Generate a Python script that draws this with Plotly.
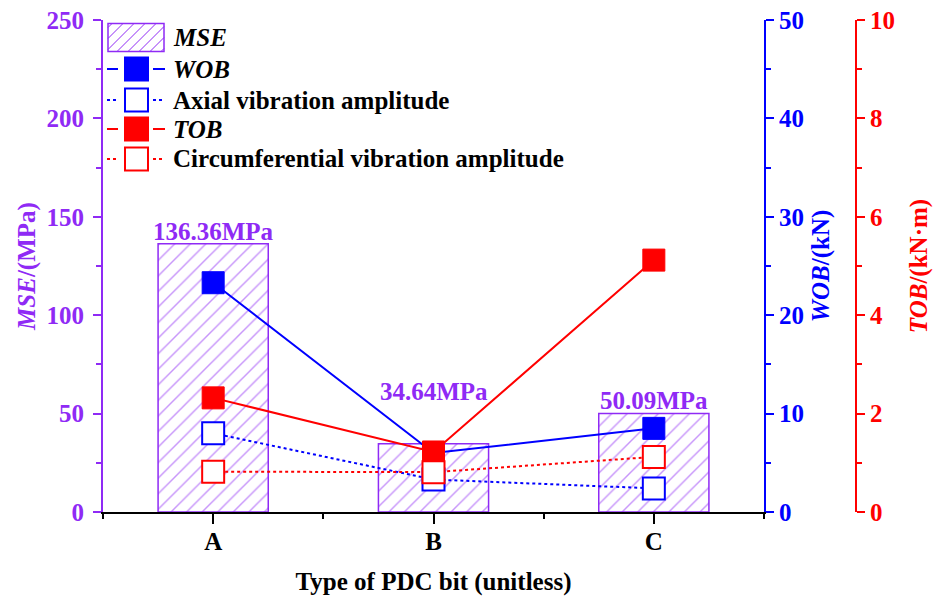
import plotly.graph_objects as go

categories = ["A", "B", "C"]
x_pos = [0, 1, 2]
mse = [136.36, 34.64, 50.09]
mse_labels = ["136.36MPa", "34.64MPa", "50.09MPa"]
label_shift = [0, 40, 0]
wob = [23.3, 6.0, 8.5]
axial_amp = [8.0, 3.3, 2.4]
tob = [2.32, 1.22, 5.12]
circ_amp = [0.82, 0.81, 1.12]

legend_names = ["<i>MSE</i>", "<i>WOB</i>", "Axial vibration amplitude",
                "<i>TOB</i>", "Circumferential vibration amplitude"]

PURPLE = "#8F2AF5"
BLUE = "#0000FF"
RED = "#FF0000"
FONT = "Liberation Serif"
FS = 25

W, H = 936, 603
L, R, T, B = 103, 0, 20, 91
plot_w = W - L - R
plot_h = H - T - B
x_end = (764 - L) / plot_w
y3_pos = (856 - L) / plot_w


def px(xp):
    return (xp - L) / plot_w


def py(yp):
    return (H - B - yp) / plot_h


fig = go.Figure()

fig.add_trace(go.Bar(
    x=x_pos, y=mse, width=0.5, name="MSE", showlegend=False,
    marker=dict(color="white", line=dict(color=PURPLE, width=1.5),
                pattern=dict(shape="/", fgcolor=PURPLE, bgcolor="white", size=11, solidity=0.13)),
    yaxis="y",
))

MS = 22
fig.add_trace(go.Scatter(
    x=x_pos, y=wob, name="WOB", mode="lines+markers", yaxis="y2", showlegend=False,
    line=dict(color=BLUE, width=2),
    marker=dict(symbol="square", size=MS, color=BLUE, line=dict(color=BLUE, width=1)),
))
fig.add_trace(go.Scatter(
    x=x_pos, y=axial_amp, name="Axial vibration amplitude", mode="lines+markers", yaxis="y2", showlegend=False,
    line=dict(color=BLUE, width=2, dash="dot"),
    marker=dict(symbol="square", size=MS, color="white", line=dict(color=BLUE, width=2)),
))
fig.add_trace(go.Scatter(
    x=x_pos, y=tob, name="TOB", mode="lines+markers", yaxis="y3", showlegend=False,
    line=dict(color=RED, width=2),
    marker=dict(symbol="square", size=MS, color=RED, line=dict(color=RED, width=1)),
))
fig.add_trace(go.Scatter(
    x=x_pos, y=circ_amp, name="Circumferential vibration amplitude", mode="lines+markers", yaxis="y3", showlegend=False,
    line=dict(color=RED, width=2, dash="dot"),
    marker=dict(symbol="square", size=MS, color="white", line=dict(color=RED, width=2)),
))

annotations = []
for xi, v, lab, sh in zip(x_pos, mse, mse_labels, label_shift):
    annotations.append(dict(
        x=xi, y=v, xref="x", yref="y", text="<b>" + lab + "</b>", showarrow=False,
        yanchor="bottom", yshift=-3 + sh, font=dict(family=FONT, size=FS, color=PURPLE),
    ))

# ---- manual legend (paper coordinates) ----
shapes = []
row_y = [37.5, 69, 100, 129, 159]
bx0, bx1, by0, by1 = 108, 164, 23.5, 51.5
shapes.append(dict(type="rect", xref="paper", yref="paper",
                   x0=px(bx0), x1=px(bx1), y0=py(by1), y1=py(by0),
                   line=dict(color=PURPLE, width=1.5), fillcolor="white", layer="above"))
w_, h_ = bx1 - bx0, by1 - by0
k = -h_ + 4
while k < w_:
    v0 = max(0, -k)
    v1 = min(h_, w_ - k)
    if v1 > v0:
        shapes.append(dict(type="line", xref="paper", yref="paper",
                           x0=px(bx0 + v0 + k), y0=py(by1 - v0),
                           x1=px(bx0 + v1 + k), y1=py(by1 - v1),
                           line=dict(color=PURPLE, width=1), layer="above"))
    k += 11

leg_styles = [(BLUE, "solid", BLUE), (BLUE, "dot", "white"), (RED, "solid", RED), (RED, "dot", "white")]
for (col, dash, fill), yc in zip(leg_styles, row_y[1:]):
    for xa, xb in [(107, 118), (153, 165)]:
        shapes.append(dict(type="line", xref="paper", yref="paper",
                           x0=px(xa), x1=px(xb), y0=py(yc), y1=py(yc),
                           line=dict(color=col, width=2, dash=dash), layer="above"))
    shapes.append(dict(type="rect", xref="paper", yref="paper",
                       x0=px(125), x1=px(148), y0=py(yc + 11.5), y1=py(yc - 11.5),
                       line=dict(color=col, width=2), fillcolor=fill, layer="above"))

for name, yc in zip(legend_names, row_y):
    annotations.append(dict(
        x=px(171), y=py(yc), xref="paper", yref="paper", xanchor="left", yanchor="middle",
        text="<b>" + name + "</b>", showarrow=False,
        font=dict(family=FONT, size=FS, color="black"),
    ))

bold = "bold"
fig.update_layout(
    width=W, height=H,
    margin=dict(l=L, r=R, t=T, b=B),
    paper_bgcolor="white", plot_bgcolor="white",
    font=dict(family=FONT, size=FS, color="black"),
    showlegend=False,
    annotations=annotations,
    shapes=shapes,
    xaxis=dict(
        domain=[0, x_end], range=[-0.5, 2.5],
        tickvals=x_pos, ticktext=categories,
        ticks="outside", ticklen=10, tickwidth=1.5, tickcolor="black",
        minor=dict(ticks="outside", ticklen=5, tickvals=[-0.5, 0.5, 1.5, 2.5], tickcolor="black", tickwidth=1.5),
        showline=True, linecolor="black", linewidth=2, showgrid=False, zeroline=False,
        tickfont=dict(family=FONT, size=FS, color="black", weight=bold),
        ticklabelstandoff=-4,
        title=dict(text="Type of PDC bit (unitless)",
                   font=dict(family=FONT, size=FS, color="black", weight=bold), standoff=18),
    ),
    yaxis=dict(
        range=[0, 250], dtick=50, ticks="outside", ticklen=8, tickwidth=1.5,
        tickcolor=PURPLE, showline=True, linecolor=PURPLE, linewidth=2,
        showgrid=False, zeroline=False,
        minor=dict(ticks="outside", ticklen=5, dtick=25, tickcolor=PURPLE, tickwidth=1.5),
        tickfont=dict(family=FONT, size=FS, color=PURPLE, weight=bold),
        ticklabelstandoff=4,
        title=dict(text="<i>MSE</i>/(MPa)", font=dict(family=FONT, size=FS, color=PURPLE, weight=bold), standoff=4),
    ),
    yaxis2=dict(
        range=[0, 50], dtick=10, overlaying="y", side="right", anchor="x",
        ticks="outside", ticklen=8, tickwidth=1.5, tickcolor=BLUE,
        showline=True, linecolor=BLUE, linewidth=2, showgrid=False, zeroline=False,
        minor=dict(ticks="outside", ticklen=5, dtick=5, tickcolor=BLUE, tickwidth=1.5),
        tickfont=dict(family=FONT, size=FS, color=BLUE, weight=bold),
        title=dict(text="<i>WOB</i>/(kN)", font=dict(family=FONT, size=FS, color=BLUE, weight=bold), standoff=8),
    ),
    yaxis3=dict(
        range=[0, 10], dtick=2, overlaying="y", side="right", anchor="free", position=y3_pos,
        ticks="outside", ticklen=8, tickwidth=1.5, tickcolor=RED,
        showline=True, linecolor=RED, linewidth=2, showgrid=False, zeroline=False,
        minor=dict(ticks="outside", ticklen=5, dtick=1, tickcolor=RED, tickwidth=1.5),
        tickfont=dict(family=FONT, size=FS, color=RED, weight=bold),
        title=dict(text="<i>TOB</i>/(kN·m)", font=dict(family=FONT, size=FS, color=RED, weight=bold), standoff=14),
    ),
)

fig.write_html("out.html")
